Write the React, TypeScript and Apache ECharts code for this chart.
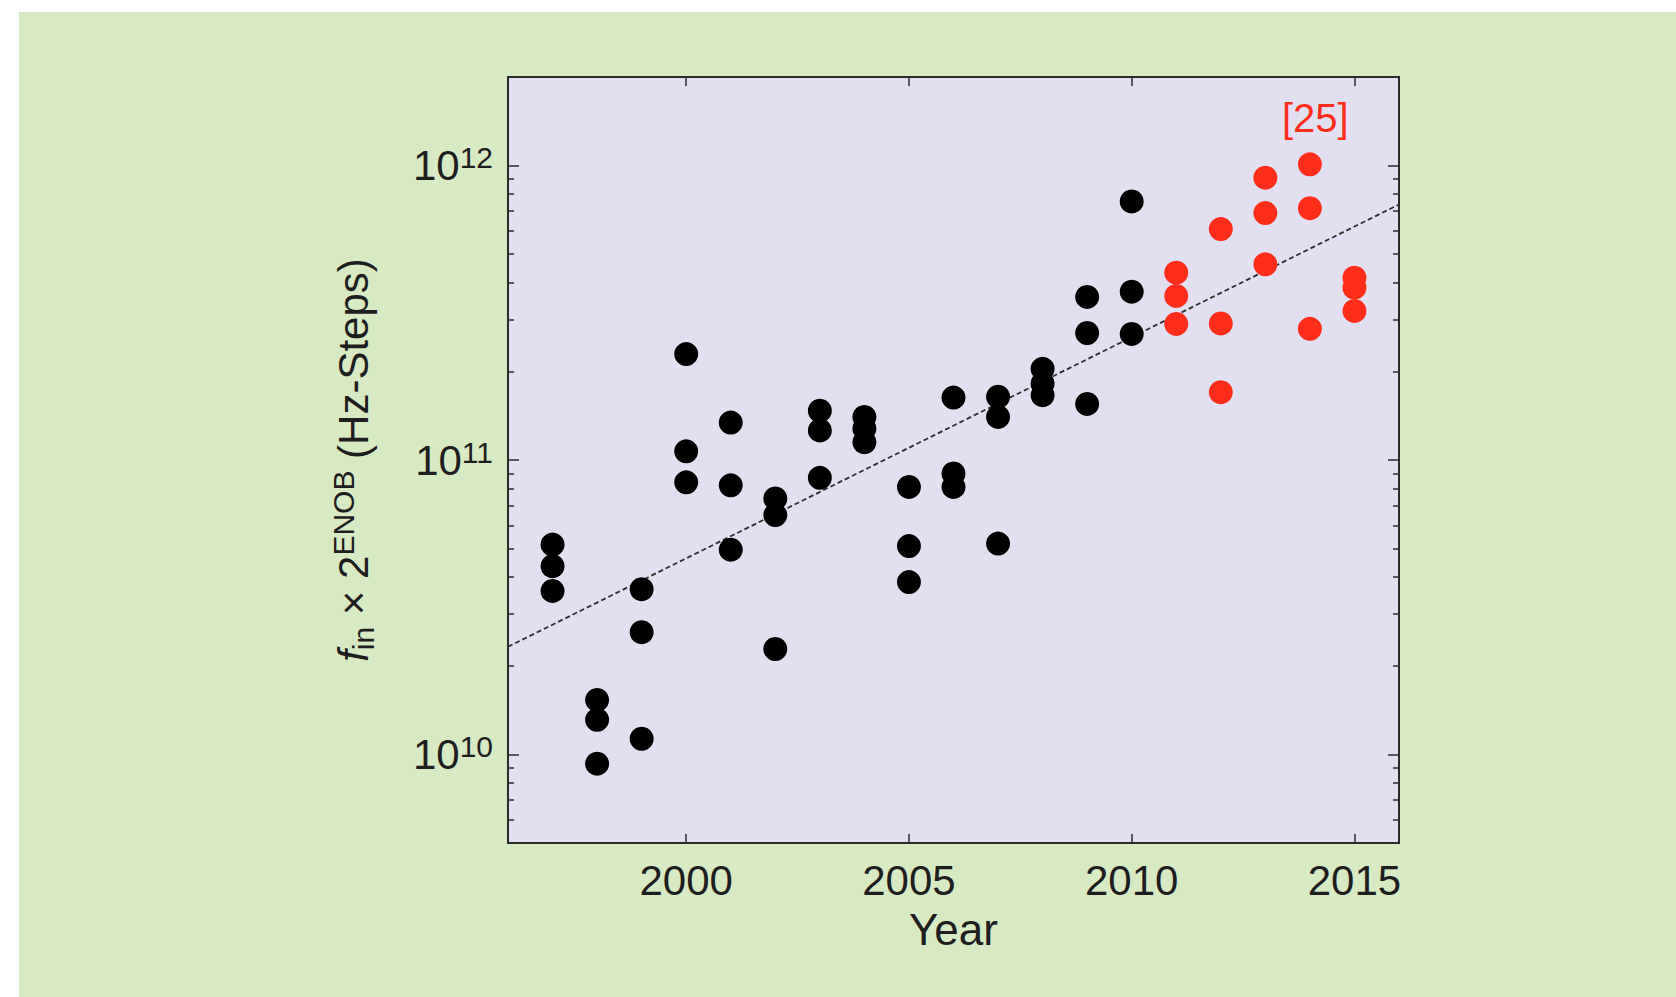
import React, { useEffect, useRef } from "react";
import * as echarts from "echarts";

// ---- data ----
const blackYears = [
  1997, 1997, 1997, 1998, 1998, 1998, 1999, 1999, 1999, 2000, 2000, 2000,
  2001, 2001, 2001, 2002, 2002, 2002, 2003, 2003, 2003, 2004, 2004, 2004,
  2005, 2005, 2005, 2006, 2006, 2006, 2007, 2007, 2007, 2008, 2008, 2008,
  2009, 2009, 2009, 2010, 2010, 2010,
];
const blackValues = [
  5.16e10, 4.36e10, 3.59e10, 1.53e10, 1.31e10, 9.3e9, 3.64e10, 2.6e10, 1.13e10,
  2.29e11, 1.07e11, 8.4e10, 1.34e11, 8.2e10, 4.96e10, 7.4e10, 6.5e10, 2.28e10,
  1.47e11, 1.26e11, 8.7e10, 1.4e11, 1.28e11, 1.15e11, 8.1e10, 5.1e10, 3.85e10,
  1.63e11, 9.0e10, 8.1e10, 1.64e11, 1.4e11, 5.2e10, 2.04e11, 1.82e11, 1.66e11,
  3.58e11, 2.7e11, 1.55e11, 7.56e11, 3.73e11, 2.68e11,
];
const redYears = [
  2011, 2011, 2011, 2012, 2012, 2012, 2013, 2013, 2013, 2014, 2014, 2014,
  2015, 2015, 2015,
];
const redValues = [
  4.33e11, 3.61e11, 2.9e11, 6.09e11, 2.91e11, 1.7e11, 9.1e11, 6.9e11, 4.62e11,
  1.01e12, 7.17e11, 2.79e11, 4.16e11, 3.85e11, 3.21e11,
];
const trendYears = [1996, 2016];
const trendValues = [2.32e10, 7.38e11];

const xTicks = [2000, 2005, 2010, 2015];
const yMajorTicks = [1e10, 1e11, 1e12];
const yMinorTicks = [
  6e9, 7e9, 8e9, 9e9,
  2e10, 3e10, 4e10, 5e10, 6e10, 7e10, 8e10, 9e10,
  2e11, 3e11, 4e11, 5e11, 6e11, 7e11, 8e11, 9e11,
];
const refLabel = "[25]";
const refPos = [2014.12, 1.45e12];

const FONT = "'Liberation Sans', Arial, Helvetica, sans-serif";
const TXT = "#1e1e1e";
const RED = "#ff2d1a";
const FRAME = "#2a2a2a";

export default function App() {
  const ref = useRef<HTMLDivElement>(null);

  useEffect(() => {
    if (!ref.current) return;
    const chart = echarts.init(ref.current, undefined, { renderer: "svg" });

    const yBase = (position: "left" | "right", major: boolean, labels: boolean) => ({
      type: "log",
      logBase: 10,
      min: 5e9,
      max: 2e12,
      position,
      gridIndex: 0,
      splitLine: { show: false },
      axisLine: { show: major, lineStyle: { color: FRAME, width: 2 } },
      axisTick: {
        show: true,
        inside: true,
        length: major ? 11 : 6,
        customValues: major ? yMajorTicks : yMinorTicks,
        lineStyle: { color: FRAME, width: 1.5 },
      },
      axisLabel: labels
        ? {
            show: true,
            margin: 15,
            customValues: yMajorTicks,
            formatter: (v: number) => `{b|10}{s|${Math.round(Math.log10(v))}}`,
            rich: {
              b: { fontSize: 42, fontFamily: FONT, color: TXT, lineHeight: 46 },
              s: { fontSize: 30, fontFamily: FONT, color: TXT, lineHeight: 26, verticalAlign: "top" },
            },
          }
        : { show: false },
    });

    const yAxes: any[] = [
      {
        ...yBase("left", true, true),
        name: "{i|f}{sub|in}{n| × 2}{sup|ENOB}{n| (Hz-Steps)}",
        nameLocation: "middle",
        nameRotate: 90,
        nameGap: 130,
        nameTextStyle: {
          rich: {
            i: { fontSize: 42, fontFamily: FONT, color: TXT, fontStyle: "italic", lineHeight: 50 },
            n: { fontSize: 42, fontFamily: FONT, color: TXT, lineHeight: 50 },
            sub: { fontSize: 30, fontFamily: FONT, color: TXT, lineHeight: 28, verticalAlign: "bottom" },
            sup: { fontSize: 30, fontFamily: FONT, color: TXT, lineHeight: 28, verticalAlign: "top" },
          },
        },
      },
      yBase("left", false, false),
      yBase("right", true, false),
      yBase("right", false, false),
    ];

    const xBase = (position: "bottom" | "top", labels: boolean) => ({
      type: "value",
      min: 1996,
      max: 2016,
      position,
      gridIndex: 0,
      splitLine: { show: false },
      axisLine: { show: true, lineStyle: { color: FRAME, width: 2 } },
      axisTick: {
        show: true,
        inside: true,
        length: 9,
        customValues: xTicks,
        lineStyle: { color: FRAME, width: 1.5 },
      },
      axisLabel: labels
        ? {
            show: true,
            margin: 16,
            customValues: xTicks,
            fontSize: 42,
            fontFamily: FONT,
            color: TXT,
            formatter: (v: number) => String(v),
          }
        : { show: false },
    });

    const xAxes: any[] = [
      {
        ...xBase("bottom", true),
        name: "Year",
        nameLocation: "middle",
        nameGap: 64,
        nameTextStyle: { fontSize: 44, fontFamily: FONT, color: TXT, lineHeight: 44 },
      },
      xBase("top", false),
    ];

    chart.setOption({
      animation: false,
      backgroundColor: "transparent",
      grid: {
        left: 508,
        top: 77,
        right: 277,
        bottom: 154,
        show: true,
        backgroundColor: "#e2e0f0",
        borderColor: FRAME,
        borderWidth: 2,
      },
      xAxis: xAxes,
      yAxis: yAxes,
      series: [
        {
          type: "line",
          xAxisIndex: 0,
          yAxisIndex: 0,
          data: trendYears.map((y, i) => [y, trendValues[i]]),
          showSymbol: false,
          symbol: "none",
          lineStyle: { color: "#2e2e2e", width: 1.8, type: [5, 3] },
          z: 1,
          silent: true,
        },
        {
          type: "scatter",
          xAxisIndex: 0,
          yAxisIndex: 0,
          data: blackYears.map((y, i) => [y, blackValues[i]]),
          symbol: "circle",
          symbolSize: 24,
          itemStyle: { color: "#000000", opacity: 1 },
          z: 3,
        },
        {
          type: "scatter",
          xAxisIndex: 0,
          yAxisIndex: 0,
          data: redYears.map((y, i) => [y, redValues[i]]),
          symbol: "circle",
          symbolSize: 24,
          itemStyle: { color: RED, opacity: 1 },
          z: 3,
          markPoint: {
            symbol: "circle",
            symbolSize: 1,
            itemStyle: { color: "transparent" },
            data: [{ coord: refPos }],
            label: {
              show: true,
              position: "inside",
              formatter: refLabel,
              fontSize: 40,
              fontFamily: FONT,
              color: RED,
            },
          },
        },
      ],
    });

    return () => chart.dispose();
  }, []);

  return (
    <div
      style={{
        position: "fixed",
        left: 0,
        top: 0,
        width: 1676,
        height: 997,
        background: "#ffffff",
        overflow: "hidden",
      }}
    >
      <div
        style={{
          position: "absolute",
          left: 19,
          top: 12,
          right: 0,
          bottom: 0,
          background: "#d8eac2",
        }}
      />
      <div
        ref={ref}
        style={{ position: "absolute", left: 0, top: 0, width: 1676, height: 997 }}
      />
    </div>
  );
}
